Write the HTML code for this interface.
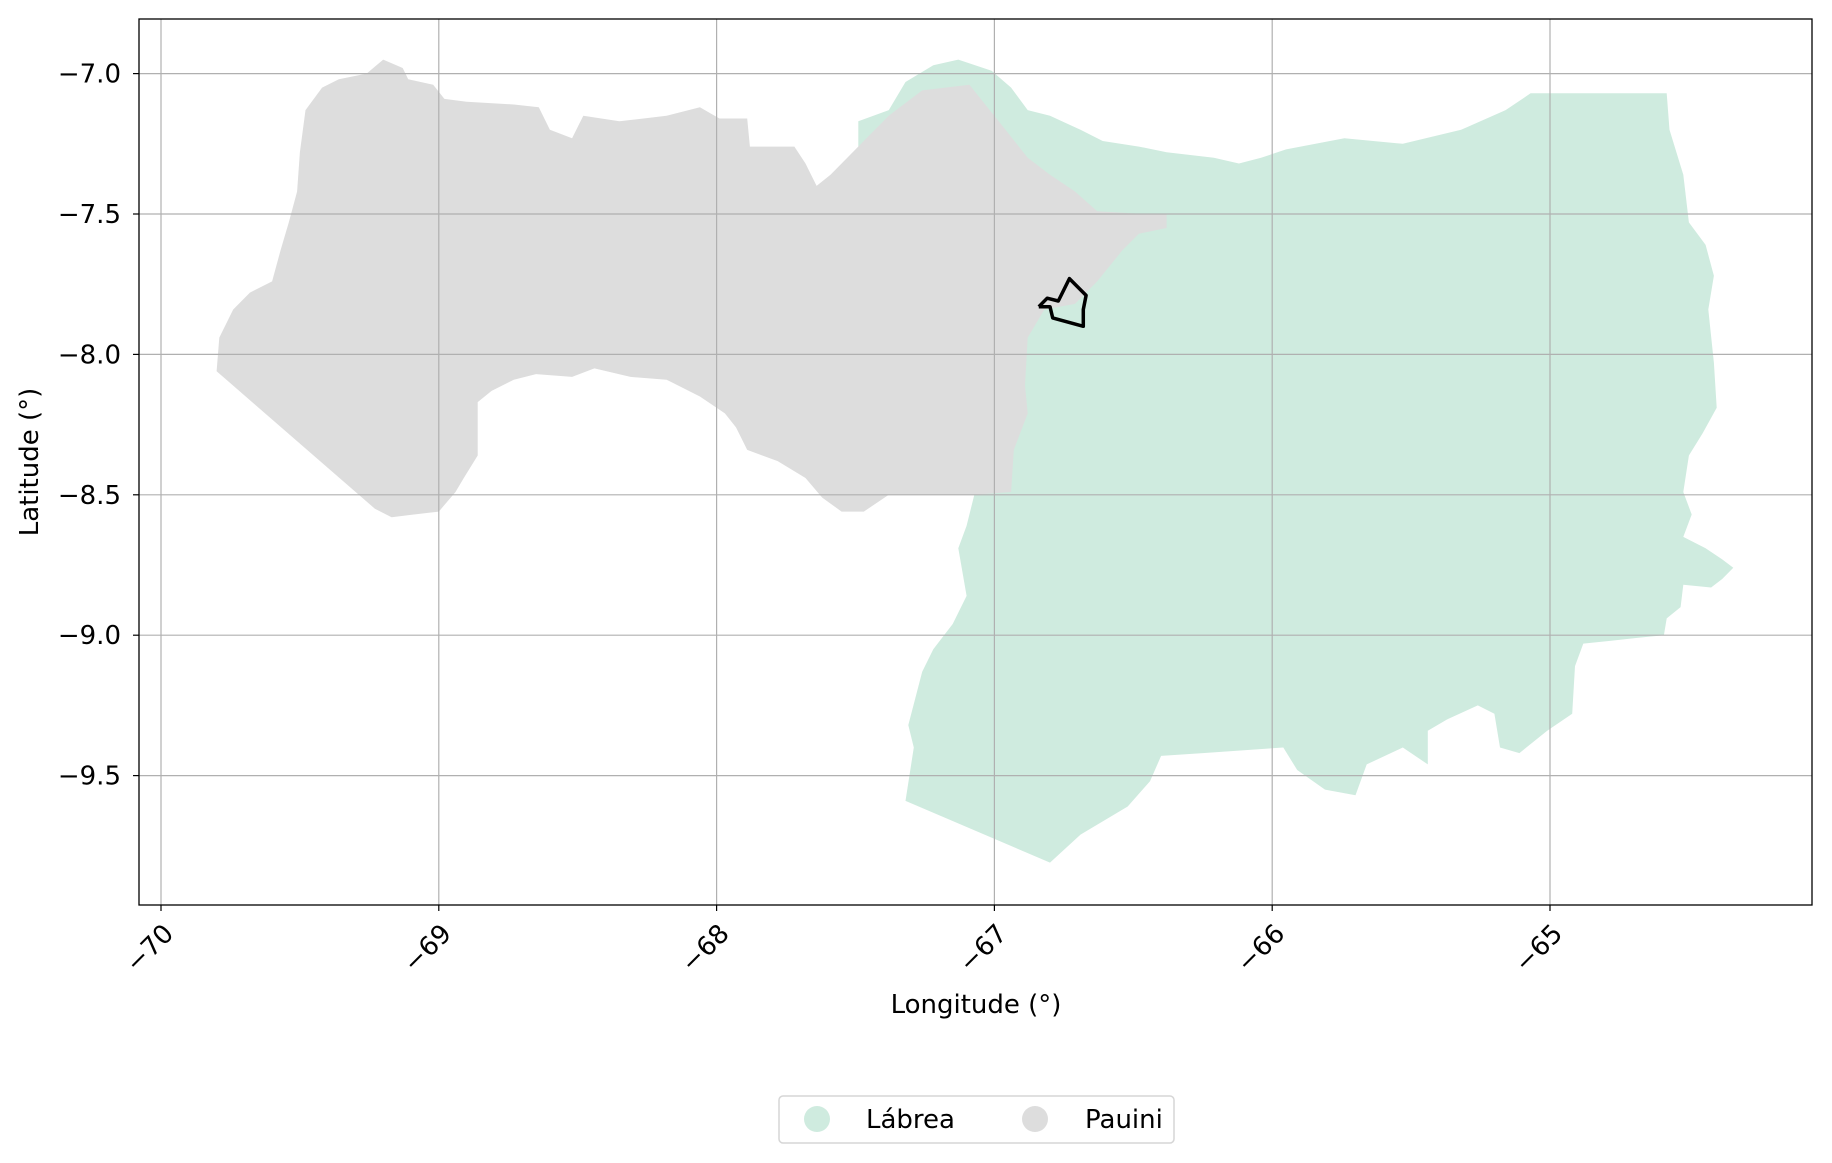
<!DOCTYPE html>
<html><head><meta charset="utf-8"><style>
body{margin:0;background:#fff}
svg{display:block;font-family:"DejaVu Sans","Liberation Sans",sans-serif}
</style></head><body>
<svg id="c" width="1832" height="1163" viewBox="0 0 1832 1163"></svg>
<script>
const xTicks=[-70,-69,-68,-67,-66,-65];
const yTicks=[-7.0,-7.5,-8.0,-8.5,-9.0,-9.5];
const yTickLabels=["−7.0","−7.5","−8.0","−8.5","−9.0","−9.5"];
const xTickLabels=["−70","−69","−68","−67","−66","−65"];
const labreaLon=[-67.49,-67.38,-67.32,-67.22,-67.13,-67.01,-66.94,-66.88,-66.80,-66.69,-66.61,-66.48,-66.38,-66.21,-66.12,-66.04,-65.95,-65.74,-65.53,-65.32,-65.16,-65.07,-64.58,-64.57,-64.52,-64.50,-64.44,-64.41,-64.43,-64.41,-64.40,-64.45,-64.50,-64.52,-64.49,-64.52,-64.44,-64.38,-64.34,-64.38,-64.42,-64.52,-64.53,-64.58,-64.59,-64.69,-64.78,-64.88,-64.91,-64.92,-65.01,-65.11,-65.18,-65.20,-65.26,-65.37,-65.44,-65.44,-65.53,-65.66,-65.70,-65.81,-65.91,-65.96,-66.25,-66.40,-66.44,-66.52,-66.69,-66.80,-67.32,-67.29,-67.31,-67.26,-67.22,-67.15,-67.10,-67.13,-67.10,-67.07,-66.97,-67.09,-67.34,-67.49];
const labreaLat=[-7.17,-7.13,-7.03,-6.97,-6.95,-6.99,-7.05,-7.13,-7.15,-7.20,-7.24,-7.26,-7.28,-7.30,-7.32,-7.30,-7.27,-7.23,-7.25,-7.20,-7.13,-7.07,-7.07,-7.20,-7.36,-7.53,-7.61,-7.72,-7.84,-8.03,-8.19,-8.28,-8.36,-8.49,-8.57,-8.65,-8.69,-8.73,-8.76,-8.80,-8.83,-8.82,-8.90,-8.94,-9.00,-9.01,-9.02,-9.03,-9.11,-9.28,-9.34,-9.42,-9.40,-9.28,-9.25,-9.30,-9.34,-9.46,-9.40,-9.46,-9.57,-9.55,-9.48,-9.40,-9.42,-9.43,-9.52,-9.61,-9.71,-9.81,-9.59,-9.40,-9.32,-9.13,-9.05,-8.96,-8.86,-8.69,-8.61,-8.49,-7.99,-7.36,-7.28,-7.27];
const pauiniLon=[-69.80,-69.79,-69.74,-69.68,-69.60,-69.57,-69.54,-69.51,-69.50,-69.48,-69.42,-69.36,-69.26,-69.20,-69.13,-69.11,-69.02,-68.98,-68.90,-68.73,-68.64,-68.60,-68.52,-68.48,-68.35,-68.18,-68.06,-67.99,-67.89,-67.88,-67.72,-67.68,-67.64,-67.59,-67.51,-67.38,-67.26,-67.09,-66.96,-66.88,-66.80,-66.71,-66.63,-66.46,-66.38,-66.38,-66.48,-66.54,-66.63,-66.71,-66.82,-66.88,-66.89,-66.88,-66.93,-66.94,-67.07,-67.38,-67.47,-67.55,-67.62,-67.68,-67.78,-67.89,-67.93,-67.97,-68.06,-68.18,-68.31,-68.44,-68.52,-68.65,-68.73,-68.81,-68.86,-68.86,-68.91,-68.94,-69.00,-69.09,-69.17,-69.23];
const pauiniLat=[-8.06,-7.94,-7.84,-7.78,-7.74,-7.63,-7.53,-7.42,-7.28,-7.13,-7.05,-7.02,-7.00,-6.95,-6.98,-7.02,-7.04,-7.09,-7.10,-7.11,-7.12,-7.20,-7.23,-7.15,-7.17,-7.15,-7.12,-7.16,-7.16,-7.26,-7.26,-7.32,-7.40,-7.36,-7.28,-7.15,-7.06,-7.04,-7.20,-7.30,-7.36,-7.42,-7.49,-7.50,-7.50,-7.55,-7.57,-7.63,-7.74,-7.82,-7.84,-7.94,-8.11,-8.21,-8.34,-8.49,-8.50,-8.50,-8.56,-8.56,-8.51,-8.44,-8.38,-8.34,-8.26,-8.21,-8.15,-8.09,-8.08,-8.05,-8.08,-8.07,-8.09,-8.13,-8.17,-8.36,-8.44,-8.49,-8.56,-8.57,-8.58,-8.55];
const siteLon=[-66.84,-66.81,-66.77,-66.76,-66.73,-66.67,-66.68,-66.68,-66.79,-66.80,-66.84];
const siteLat=[-7.83,-7.80,-7.81,-7.79,-7.73,-7.79,-7.84,-7.90,-7.87,-7.83,-7.83];

const L=139,R=1812,T=19,B=905;
const X=v=>161+(v+70)*277.8;
const Y=v=>73.6+(-7-v)*280.8;
const NS="http://www.w3.org/2000/svg";
const svg=document.getElementById('c');
function mk(tag,attrs,parent){const e=document.createElementNS(NS,tag);for(const k in attrs)e.setAttribute(k,attrs[k]);(parent||svg).appendChild(e);return e;}
function pts(lo,la){return lo.map((v,i)=>X(v).toFixed(1)+","+Y(la[i]).toFixed(1)).join(" ");}

const g1=mk('polygon',{points:pts(labreaLon,labreaLat),fill:'#cfebdf'});


const g2=mk('polygon',{points:pts(pauiniLon,pauiniLat),fill:'#dddddd'});



xTicks.forEach((t,i)=>{
  const x=X(t);
  const gl=mk('line',{x1:x,x2:x,y1:T,y2:B,stroke:'#b0b0b0','stroke-width':1.2});
  
  
  mk('line',{x1:x,x2:x,y1:B,y2:B+6,stroke:'#000','stroke-width':1.2});
  const ax=x+14, ay=935;
  const tx=mk('text',{x:ax,y:ay,'font-size':26,'text-anchor':'end',transform:`rotate(-45 ${ax} ${ay})`});
  tx.textContent=xTickLabels[i];
  
  
});
yTicks.forEach((t,i)=>{
  const y=Y(t);
  const gl=mk('line',{x1:L,x2:R,y1:y,y2:y,stroke:'#b0b0b0','stroke-width':1.2});
  
  
  mk('line',{x1:L-6,x2:L,y1:y,y2:y,stroke:'#000','stroke-width':1.2});
  const tx=mk('text',{x:L-18,y:y+9,'font-size':26,'text-anchor':'end'});
  tx.textContent=yTickLabels[i];
  
  
});

const s=mk('polyline',{points:pts(siteLon,siteLat),fill:'none',stroke:'#000','stroke-width':3.5,'stroke-linejoin':'round'});



const fr=mk('rect',{x:L,y:T,width:R-L,height:B-T,fill:'none',stroke:'#000','stroke-width':1.3});



const xl=mk('text',{x:976,y:1013,'font-size':26,'text-anchor':'middle'});
xl.textContent='Longitude (°)';


const yl=mk('text',{x:38,y:462,'font-size':26,'text-anchor':'middle',transform:'rotate(-90 38 462)'});
yl.textContent='Latitude (°)';



const lg=mk('g',{});


mk('rect',{x:779,y:1096,width:395,height:47,rx:4,fill:'#fff',stroke:'#d6d6d6','stroke-width':1.5},lg);
const e1=mk('g',{},lg);


mk('circle',{cx:817,cy:1119,r:13,fill:'#cfebdf'},e1);
const t1=mk('text',{x:866,y:1128,'font-size':26},e1);t1.textContent='Lábrea';
const e2=mk('g',{},lg);


mk('circle',{cx:1035,cy:1119,r:13,fill:'#dddddd'},e2);
const t2=mk('text',{x:1085,y:1128,'font-size':26},e2);t2.textContent='Pauini';
</script>
</body></html>
